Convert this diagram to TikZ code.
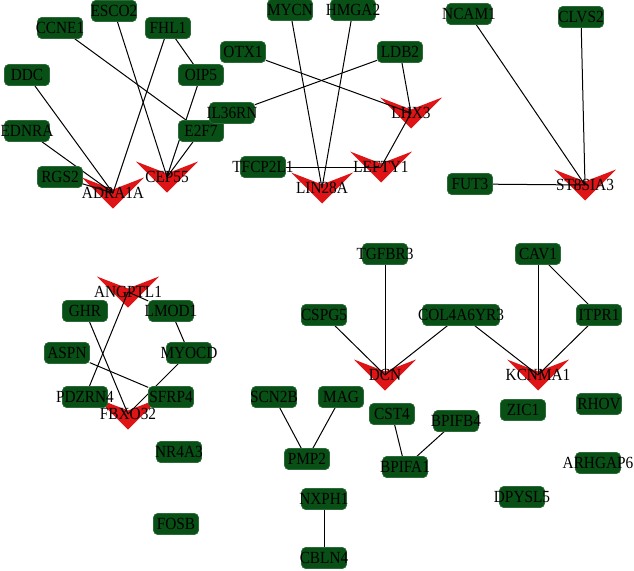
\documentclass[tikz,border=0pt]{standalone}
\usepackage{fontspec}
\setmainfont[FakeStretch=0.9]{Liberation Serif}

\definecolor{genegreen}{RGB}{8,80,22}
\definecolor{hubred}{RGB}{222,20,22}

\pgfdeclarelayer{hublayer}
\pgfdeclarelayer{edgelayer}
\pgfsetlayers{hublayer,edgelayer,main}

\begin{document}
\begin{tikzpicture}[
  x=1pt, y=-1pt,
  font=\fontsize{17}{19}\selectfont,
  gene/.style={
    fill=genegreen,
    draw=genegreen!85!white,
    line width=0.6pt,
    rounded corners=4pt,
    minimum width=45pt,
    minimum height=21pt,
    inner sep=0pt,
    label=center:#1
  },
  hub/.style={
    minimum width=62pt,
    minimum height=31pt,
    inner sep=0pt,
    path picture={
      \fill[hubred] (path picture bounding box.north west)
        -- ([yshift=-12pt]path picture bounding box.north)
        -- (path picture bounding box.north east)
        -- (path picture bounding box.south) -- cycle;
    },
    label=center:#1
  },
  link/.style={draw=black, line width=1pt}
]

\useasboundingbox (0,0) rectangle (634,570);

% Hub genes
\begin{pgfonlayer}{hublayer}
\node[hub=ADRA1A] (adra1a) at (113,193) {};
\node[hub=CEP55] (cep55) at (167,177) {};
\node[hub=LHX3] (lhx3) at (411,113) {};
\node[hub=LEFTY1] (lefty1) at (381,167) {};
\node[hub=LIN28A] (lin28a) at (322,188) {};
\node[hub=ST8SIA3] (st8sia3) at (585,185) {};
\node[hub=ANGPTL1] (angptl1) at (128,292) {};
\node[hub=FBXO32] (fbxo32) at (128,414) {};
\node[hub=DCN] (dcn) at (385,375) {};
\node[hub=KCNMA1] (kcnma1) at (538,375) {};
\end{pgfonlayer}

% Top left group
\node[gene=CCNE1] (ccne1) at (60,28) {};
\node[gene=ESCO2] (esco2) at (114,11) {};
\node[gene=FHL1] (fhl1) at (168,28) {};
\node[gene=DDC] (ddc) at (27,75) {};
\node[gene=OIP5] (oip5) at (201,75) {};
\node[gene=EDNRA] (ednra) at (27,131) {};
\node[gene=E2F7] (e2f7) at (201,131) {};
\node[gene=RGS2] (rgs2) at (60,177) {};

% Top middle group
\node[gene=IL36RN] (il36rn) at (232,113) {};
\node[gene=MYCN] (mycn) at (290,10) {};
\node[gene=HMGA2] (hmga2) at (353,10) {};
\node[gene=OTX1] (otx1) at (243,52) {};
\node[gene=LDB2] (ldb2) at (400,52) {};
\node[gene=TFCP2L1] (tfcp2l1) at (263,167) {};

% Top right group
\node[gene=NCAM1] (ncam1) at (469,14) {};
\node[gene=CLVS2] (clvs2) at (581,17) {};
\node[gene=FUT3] (fut3) at (470,184) {};

% Bottom left group
\node[gene=GHR] (ghr) at (85,311) {};
\node[gene=LMOD1] (lmod1) at (171,311) {};
\node[gene=ASPN] (aspn) at (67,353) {};
\node[gene=MYOCD] (myocd) at (189,353) {};
\node[gene=PDZRN4] (pdzrn4) at (85,397) {};
\node[gene=SFRP4] (sfrp4) at (171,397) {};
\node[gene=NR4A3] (nr4a3) at (179,452) {};
\node[gene=FOSB] (fosb) at (176,524) {};

% Bottom middle group
\node[gene=TGFBR3] (tgfbr3) at (385,254) {};
\node[gene=CSPG5] (cspg5) at (324,315) {};
\node[gene=COL4A6YR3, minimum width=77pt] (col4a6yr3) at (461,315) {};
\node[gene=SCN2B] (scn2b) at (274,397) {};
\node[gene=MAG] (mag) at (341,397) {};
\node[gene=CST4] (cst4) at (392,414) {};
\node[gene=BPIFB4] (bpifb4) at (456,421) {};
\node[gene=PMP2] (pmp2) at (307,459) {};
\node[gene=BPIFA1] (bpifa1) at (405,467) {};
\node[gene=NXPH1] (nxph1) at (324,499) {};
\node[gene=CBLN4] (cbln4) at (324,558) {};

% Bottom right group
\node[gene=CAV1] (cav1) at (538,254) {};
\node[gene=ITPR1] (itpr1) at (599,315) {};
\node[gene=ZIC1] (zic1) at (523,410) {};
\node[gene=RHOV] (rhov) at (599,404) {};
\node[gene=ARHGAP6] (arhgap6) at (598,463) {};
\node[gene=DPYSL5] (dpysl5) at (522,497) {};

% Interactions
\begin{pgfonlayer}{edgelayer}
\draw[link] (esco2) -- (cep55.center);
\draw[link] (ccne1) -- (e2f7);
\draw[link] (fhl1) -- (adra1a.center);
\draw[link] (fhl1) -- (oip5);
\draw[link] (oip5) -- (cep55.center);
\draw[link] (e2f7) -- (cep55.center);
\draw[link] (ddc) -- (adra1a.center);
\draw[link] (ednra) -- (adra1a.center);
\draw[link] (rgs2) -- (adra1a.center);

\draw[link] (mycn) -- (lin28a.center);
\draw[link] (hmga2) -- (lin28a.center);
\draw[link] (otx1) -- (lhx3.center);
\draw[link] (ldb2) -- (il36rn);
\draw[link] (ldb2) -- (lhx3.center);
\draw[link] (lhx3.center) -- (lefty1.center);
\draw[link] (tfcp2l1) -- (lefty1.center);

\draw[link] (ncam1) -- (st8sia3.center);
\draw[link] (clvs2) -- (st8sia3.center);
\draw[link] (fut3) -- (st8sia3.center);

\draw[link] (angptl1.center) -- (lmod1);
\draw[link] (angptl1.center) -- (pdzrn4);
\draw[link] (ghr) -- (fbxo32.center);
\draw[link] (aspn) -- (sfrp4);
\draw[link] (lmod1) -- (myocd);
\draw[link] (myocd) -- (fbxo32.center);

\draw[link] (tgfbr3) -- (dcn.center);
\draw[link] (cspg5) -- (dcn.center);
\draw[link] (col4a6yr3) -- (dcn.center);
\draw[link] (col4a6yr3) -- (kcnma1.center);
\draw[link] (cav1) -- (kcnma1.center);
\draw[link] (cav1) -- (itpr1);
\draw[link] (itpr1) -- (kcnma1.center);

\draw[link] (scn2b) -- (pmp2);
\draw[link] (mag) -- (pmp2);
\draw[link] (cst4) -- (bpifa1);
\draw[link] (bpifb4) -- (bpifa1);
\draw[link] (nxph1) -- (cbln4);
\end{pgfonlayer}

\end{tikzpicture}
\end{document}
